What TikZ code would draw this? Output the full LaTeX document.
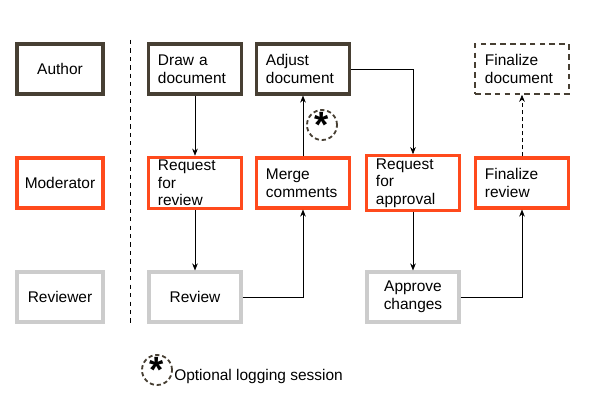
\documentclass[tikz,border=0pt]{standalone}
\usepackage{fontspec}
\setmainfont{Liberation Sans}
\usetikzlibrary{arrows.meta,positioning}
\definecolor{authorc}{HTML}{473F33}
\definecolor{modc}{HTML}{FF4A1C}
\definecolor{revc}{HTML}{CCCCCC}
\tikzset{
  box/.style={rectangle,draw,line width=2.2pt,minimum width=2.3cm,minimum height=1.25cm,font=\fontsize{11}{12.5}\selectfont,inner sep=2pt},
  lane/.style={box,minimum width=2.15cm,align=center},
  task/.style={box,text width=1.85cm,inner xsep=7pt,align=left},
  ctask/.style={box,align=center},
  flow/.style={-{Stealth[length=5pt,width=4pt]},thin},
  logmark/.style={circle,draw=authorc,dash pattern=on 3pt off 2pt,line width=1.3pt,minimum size=0.75cm,inner sep=0pt,font=\fontsize{26}{26}\selectfont\bfseries},
}
\begin{document}
\begin{tikzpicture}[x=0.025cm,y=-0.025cm]
  \useasboundingbox (0,0) rectangle (600,400);
  % lanes
  \node[lane,draw=authorc] (author) at (60,69) {Author};
  \node[lane,draw=modc] (moderator) at (60,183) {Moderator};
  \node[lane,draw=revc] (reviewer) at (60,297) {Reviewer};
  \draw[dashed,thin] (130,40) -- (130,325);

  % tasks
  \node[task,draw=authorc] (draw) at (195,69) {Draw a\\document};
  \node[task,draw=authorc] (adjust) at (303,69) {Adjust\\document};
  \node[task,draw=authorc,dash pattern=on 4pt off 3pt,line width=1.2pt] (finaldoc) at (522,69) {Finalize\\document};
  \node[task,draw=modc] (reqrev) at (195,183) {Request for\\review};
  \node[task,draw=modc] (merge) at (303,183) {Merge\\comments};
  \node[task,draw=modc] (reqapp) at (413,183) {Request for\\approval};
  \node[task,draw=modc] (finalrev) at (522,183) {Finalize\\review};
  \node[ctask,draw=revc] (review) at (195,297) {Review};
  \node[ctask,draw=revc] (approve) at (413,297) {Approve\\changes};

  % flow
  \draw[flow] (draw) -- (reqrev);
  \draw[flow] (reqrev) -- (review);
  \draw[flow] (review.east) -| (merge.south);
  \draw[flow] (merge) -- (adjust);
  \draw[flow] (adjust.east) -| (reqapp.north);
  \draw[flow] (reqapp) -- (approve);
  \draw[flow] (approve.east) -| (finalrev.south);
  \draw[flow,densely dashed] (finalrev) -- (finaldoc);

  % logging marks
  \node[logmark] (log) at (322,125) {\raisebox{-8pt}{*}};
  \node[logmark] (legend) at (157,370) {\raisebox{-8pt}{*}};
  \node[anchor=west,font=\fontsize{11}{12.5}\selectfont,inner sep=0pt] (legendtext) at (174,377) {Optional logging session};
\end{tikzpicture}
\end{document}
